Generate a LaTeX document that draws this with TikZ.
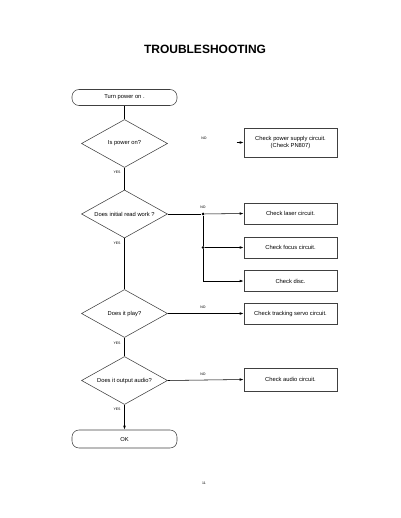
\documentclass[tikz,border=0pt]{standalone}
\usepackage{fontspec}
\setmainfont{Liberation Sans}
\usetikzlibrary{shapes.geometric,arrows.meta}
\begin{document}
\begin{tikzpicture}[x=1pt,y=-1pt,
  line width=0.55pt,
  txt/.style={font=\fontsize{5.8}{6.8}\selectfont, align=center},
  term/.style={draw=black!75, rounded corners=7pt, minimum width=105pt, minimum height=16pt, txt, inner sep=0pt},
  dec/.style={draw=black!75, diamond, aspect=1.75, minimum width=86pt, minimum height=48pt, inner sep=0pt, txt},
  actbox/.style={draw=black!75, minimum width=93pt, inner sep=0pt, txt},
  lbl/.style={font=\fontsize{3.5}{4}\selectfont, inner sep=0pt},
  conn/.style={draw=black},
  arr/.style={conn, -{Latex[length=4pt,width=2.5pt]}},
  dot/.style={circle, fill=black, inner sep=0pt, minimum size=3pt}]
\useasboundingbox (0,0) rectangle (400,518);
\node[font=\fontsize{12}{14}\selectfont\bfseries] (title) at (205,49) {TROUBLESHOOTING};

\node[term] (start) at (124.5,97.5) {Turn power on .};
\node[dec] (d1) at (124.5,143.5) {Is power on?};
\node[actbox, minimum height=29pt] (b1) at (290.5,142.5) {Check power supply circuit.\\(Check PN807)};
\coordinate (b1s) at ([xshift=-7pt]b1.west);

\node[dec] (d2) at (124.5,214) {Does initial read work ?};
\node[actbox, minimum height=21pt] (b2) at (290.5,213.5) {Check laser circuit.};
\node[actbox, minimum height=21pt] (b3) at (290.5,247.5) {Check focus circuit.};
\node[actbox, minimum height=21pt] (b4) at (290.5,281) {Check disc.};

\node[dec] (d3) at (124.5,313.5) {Does it play?};
\node[actbox, minimum height=21pt] (b5) at (290.5,313.5) {Check tracking servo circuit.};

\node[dec] (d4) at (124.5,380.5) {Does it output audio?};
\node[actbox, minimum height=23pt] (b6) at (290.5,379.5) {Check audio circuit.};

\node[term, minimum height=18pt] (ok) at (124.5,439) {OK};

\node[dot] (j1) at (203,214) {};
\node[dot] (j2) at (203,247.5) {};
\coordinate (j3) at (203,281);

% connectors
\draw[conn] (start) -- (d1);
\draw[conn] (d1) -- (d2);
\draw[conn] (d2) -- (d3);
\draw[conn] (d3) -- (d4);
\draw[arr] (d4) -- (ok);
\draw[arr] (b1s) -- (b1.west);
\draw[conn] (d2.east) -- (j1);
\draw[arr] (j1) -- (b2.west);
\draw[conn] (j1) -- (j2) -- (j3);
\draw[arr] (j2) -- (b3.west);
\draw[arr] (j3) -- (b4.west);
\draw[arr] (d3.east) -- (b5.west);
\draw[arr] (d4.east) -- (b6.west);

% labels
\node[lbl] (n1) at (204,138) {NO};
\node[lbl] (y1) at (117,172) {YES};
\node[lbl] (n2) at (203,207) {NO};
\node[lbl] (y2) at (117,243) {YES};
\node[lbl] (n3) at (203,307) {NO};
\node[lbl] (y3) at (117,343) {YES};
\node[lbl] (n4) at (203,374) {NO};
\node[lbl] (y4) at (117,409) {YES};
\node[lbl] (pg) at (204,483) {11};
\end{tikzpicture}
\end{document}
